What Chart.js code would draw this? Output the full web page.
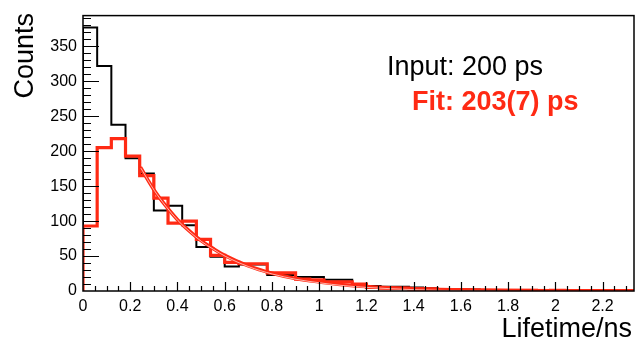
<!DOCTYPE html>
<html>
<head>
<meta charset="utf-8">
<script src="https://cdn.jsdelivr.net/npm/chart.js@4/dist/chart.umd.min.js"></script>
<style>
  html, body { margin: 0; padding: 0; background: #fff; }
  #wrap { width: 636px; height: 339px; }
</style>
</head>
<body>
<div id="wrap"><canvas id="c1"></canvas></div>
<script>
// histogram bins: 0.06 ns wide, starting at 0
var binWidth = 0.06;
var inputCounts = [377, 322, 238, 190, 168, 115, 122, 94, 63, 49, 35, 38, 38, 23, 23, 20, 20, 16, 16, 9,
  7, 6, 6, 5, 4, 3, 2, 2, 1, 1, 1, 0, 1, 0, 0, 0, 0, 0, 0];
var fitCounts = [93, 205, 218, 193, 165, 133, 97, 100, 74, 51, 41, 39, 39, 26, 26, 17, 16, 13, 13, 10,
  5, 4, 4, 3, 3, 2, 2, 1, 1, 1, 1, 1, 0, 1, 0, 0, 0, 0, 0];
// fit curve
var curveT = [0.243, 0.3, 0.35, 0.4, 0.45, 0.5, 0.55, 0.6, 0.7, 0.8, 0.9, 1.0, 1.1, 1.2, 1.4, 1.6, 1.8, 2.0, 2.2, 2.333];
var curveY = [177, 145, 122, 102, 86, 72, 61, 51, 36, 25.5, 18, 13, 9, 6.4, 3.2, 1.6, 0.8, 0.4, 0.2, 0.13];
var xTicks = [0, 0.2, 0.4, 0.6, 0.8, 1, 1.2, 1.4, 1.6, 1.8, 2, 2.2];
var yTicks = [0, 50, 100, 150, 200, 250, 300, 350];
var xMax = 2.333, yMax = 394;
var labelInput = "Input: 200 ps";
var labelFit = "Fit: 203(7) ps";

var RED = "#ff2a14";
var FONT = "'Liberation Sans', Arial, Helvetica, sans-serif";

// left bin edges, stepped "before" keeps each y until the next edge
function steps(counts) {
  var pts = [{x: 0, y: 0}];
  counts.forEach(function(v, i) { pts.push({x: i * binWidth, y: v}); });
  pts.push({x: counts.length * binWidth, y: counts[counts.length - 1]});
  return pts;
}
var curve = curveT.map(function(t, i) { return {x: t, y: curveY[i]}; });

// ROOT style inner ticks, frame and labels
var rootStyle = {
  id: "rootStyle",
  beforeDatasetDraw: function(chart, args) {
    if (args.meta.index == 3) {
      chart.ctx.save();
      chart.ctx.translate(0.5, 0.9);
    }
  },
  afterDatasetDraw: function(chart, args) {
    if (args.meta.index == 3) chart.ctx.restore();
  },
  afterDraw: function(chart) {
    var ctx = chart.ctx, a = chart.chartArea;
    var xs = chart.scales.x, ys = chart.scales.y;
    ctx.save();
    ctx.strokeStyle = "#000";
    ctx.lineWidth = 1.5;
    ctx.strokeRect(a.left, a.top, a.right - a.left, a.bottom - a.top);
    ctx.lineWidth = 1.2;
    ctx.beginPath();
    for (var v = 10; v < yMax; v += 10) {
      var py = Math.round(ys.getPixelForValue(v)) + 0.5;
      var len = (v % 50 == 0) ? 16 : 8;
      ctx.moveTo(a.left, py); ctx.lineTo(a.left + len, py);
    }
    for (var k = 1; k * 0.05 < xMax; k++) {
      var px = Math.round(xs.getPixelForValue(k * 0.05)) + 0.5;
      var l2 = (k % 4 == 0) ? 9 : 5;
      ctx.moveTo(px, a.bottom); ctx.lineTo(px, a.bottom - l2);
    }
    ctx.stroke();

    ctx.fillStyle = "#000";
    ctx.font = "27px " + FONT;
    ctx.textBaseline = "alphabetic";
    ctx.textAlign = "right";
    ctx.fillText("Lifetime/ns", a.right - 2, 337);
    ctx.save();
    ctx.translate(33, 13);
    ctx.rotate(-Math.PI / 2);
    ctx.fillText("Counts", 0, 0);
    ctx.restore();

    ctx.textAlign = "left";
    ctx.fillText(labelInput, 387, 75);
    ctx.fillStyle = RED;
    ctx.font = "bold 27px " + FONT;
    ctx.fillText(labelFit, 412, 110);
    ctx.restore();
  }
};

function useTicks(list) {
  return function(scale) {
    scale.ticks = list.map(function(v) { return {value: v}; });
  };
}

new Chart(document.getElementById("c1"), {
  type: "line",
  data: {
    datasets: [
      {data: curve, borderColor: RED, borderWidth: 3.6, pointRadius: 0, cubicInterpolationMode: "monotone", order: 1},
      {data: steps(fitCounts), borderColor: RED, borderWidth: 3.2, pointRadius: 0, stepped: "before", order: 2},
      {data: steps(inputCounts), borderColor: "#000", borderWidth: 2, pointRadius: 0, stepped: "before", order: 3},
      {data: curve, borderColor: "rgba(255,215,210,0.8)", borderWidth: 1, pointRadius: 0, cubicInterpolationMode: "monotone", order: 0}
    ]
  },
  options: {
    responsive: true,
    maintainAspectRatio: false,
    animation: false,
    layout: {padding: {top: 14, right: 2, left: 0, bottom: 0}},
    plugins: {legend: {display: false}, tooltip: {enabled: false}},
    scales: {
      x: {
        type: "linear", min: 0, max: xMax,
        grid: {display: false, drawTicks: false},
        border: {display: false},
        afterBuildTicks: useTicks(xTicks),
        afterFit: function(s) { s.height = 48; },
        ticks: {
          padding: 6, maxRotation: 0, autoSkip: false, color: "#000",
          font: {family: FONT, size: 16},
          callback: function(v) { return String(Math.round(v * 10) / 10); }
        }
      },
      y: {
        min: 0, max: yMax,
        grid: {display: false, drawTicks: false},
        border: {display: false},
        afterBuildTicks: useTicks(yTicks),
        afterFit: function(s) { s.width = 83; },
        ticks: {padding: 6, color: "#000", font: {family: FONT, size: 16}}
      }
    }
  },
  plugins: [rootStyle]
});
</script>
</body>
</html>
